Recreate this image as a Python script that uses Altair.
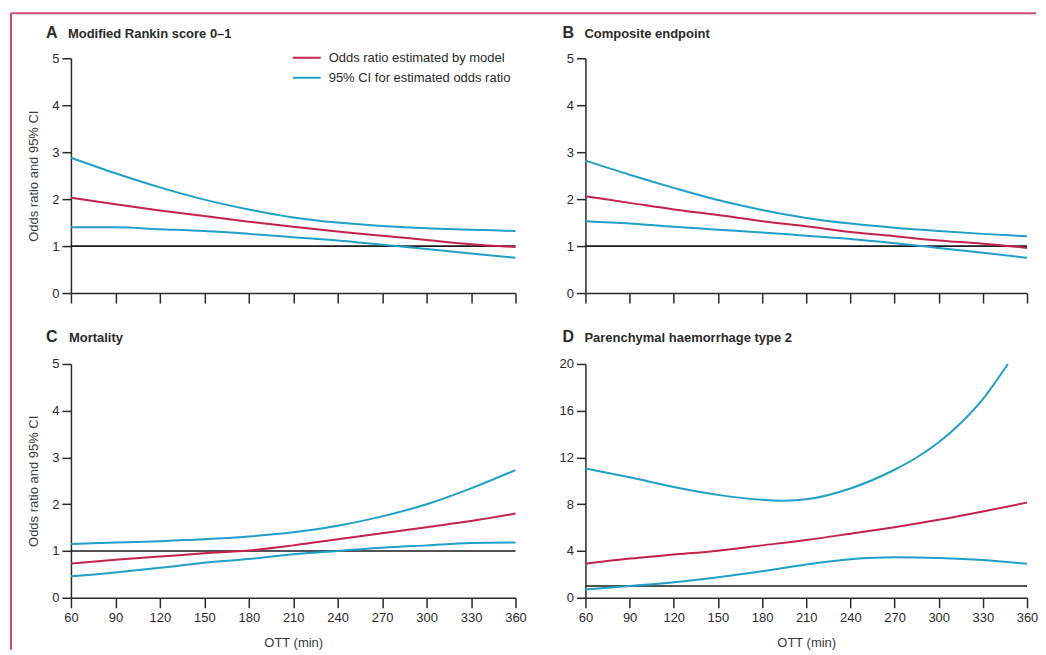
import altair as alt
import pandas as pd

# ---------------- data ----------------
OTT = [60, 90, 120, 150, 180, 210, 240, 270, 300, 330, 360]

A_OR = [2.03, 1.89, 1.76, 1.64, 1.52, 1.41, 1.31, 1.22, 1.13, 1.04, 0.98]
A_HI = [2.88, 2.55, 2.25, 1.99, 1.78, 1.61, 1.50, 1.43, 1.38, 1.35, 1.32]
A_LO = [1.40, 1.40, 1.36, 1.32, 1.26, 1.19, 1.12, 1.03, 0.94, 0.84, 0.75]

B_OR = [2.06, 1.92, 1.78, 1.66, 1.53, 1.42, 1.30, 1.21, 1.12, 1.05, 0.96]
B_HI = [2.82, 2.52, 2.24, 1.98, 1.77, 1.60, 1.48, 1.39, 1.32, 1.26, 1.21]
B_LO = [1.53, 1.48, 1.41, 1.35, 1.29, 1.22, 1.15, 1.06, 0.96, 0.86, 0.75]

C_OR = [0.73, 0.81, 0.88, 0.95, 1.01, 1.12, 1.25, 1.38, 1.51, 1.64, 1.80]
C_HI = [1.15, 1.18, 1.21, 1.25, 1.31, 1.40, 1.54, 1.74, 2.00, 2.34, 2.73]
C_LO = [0.46, 0.54, 0.64, 0.75, 0.83, 0.93, 1.00, 1.07, 1.12, 1.17, 1.18]

D_OR = [2.90, 3.35, 3.69, 4.03, 4.48, 4.94, 5.48, 6.04, 6.67, 7.38, 8.14]
D_LO = [0.70, 1.00, 1.33, 1.76, 2.27, 2.84, 3.29, 3.46, 3.40, 3.23, 2.90]
D_HI_OTT = [60, 90, 120, 150, 180, 195, 210, 240, 270, 285, 300, 315, 330, 347]
D_HI = [11.06, 10.30, 9.48, 8.80, 8.38, 8.30, 8.42, 9.35, 10.95, 12.00, 13.30,
        14.95, 17.00, 20.00]

SERIES = ["Odds ratio estimated by model", "95% CI for estimated odds ratio"]
LETTERS = ["A", "B", "C", "D"]
TITLES = ["Modified Rankin score 0\u20131", "Composite endpoint", "Mortality",
          "Parenchymal haemorrhage type 2"]
Y_TICKS = [[0, 1, 2, 3, 4, 5], [0, 1, 2, 3, 4, 5], [0, 1, 2, 3, 4, 5],
           [0, 4, 8, 12, 16, 20]]
X_TICKS = [60, 90, 120, 150, 180, 210, 240, 270, 300, 330, 360]
REF = 1
Y_TITLE = "Odds ratio and 95% CI"
X_TITLE = "OTT (min)"

# ---------------- style ----------------
FONT = "Liberation Sans, Arial, sans-serif"
RED = "#c5214d"
BLUE = "#1f9fc9"
BORDER = "#d04a70"
TXT = "#2b2b2b"


def panel(idx, or_y, lo_y, hi_x, hi_y, width, height, left, bottom, legend, border, tx):
    rows = []
    for x, v in zip(OTT, or_y):
        rows.append({"ott": x, "val": v, "curve": "or", "series": SERIES[0]})
    for x, v in zip(OTT, lo_y):
        rows.append({"ott": x, "val": v, "curve": "lo", "series": SERIES[1]})
    for x, v in zip(hi_x, hi_y):
        rows.append({"ott": x, "val": v, "curve": "hi", "series": SERIES[1]})
    df = pd.DataFrame(rows)

    ymax = Y_TICKS[idx][-1]
    xaxis = alt.Axis(values=X_TICKS, labels=bottom, title=X_TITLE if bottom else None)
    yaxis = alt.Axis(values=Y_TICKS[idx], title=Y_TITLE if left else None)
    xscale = alt.Scale(domain=[X_TICKS[0], X_TICKS[-1]], nice=False, zero=False)
    yscale = alt.Scale(domain=[0, ymax], nice=False, zero=False)

    if legend:
        leg = alt.Legend(orient="none", legendX=221, legendY=-7, title=None,
                         symbolType="stroke", symbolSize=784, symbolStrokeWidth=2,
                         labelFont=FONT, labelFontSize=13, labelColor=TXT,
                         labelLimit=400, clipHeight=13, rowPadding=6, labelOffset=7,
                         padding=0)
    else:
        leg = None

    one = pd.DataFrame({"k": [0]})
    ref = alt.Chart(one).mark_rule(color="#1a1a1a", strokeWidth=1.6).encode(
        x=alt.X(datum=X_TICKS[0], scale=xscale, axis=xaxis),
        x2=alt.datum(X_TICKS[-1]),
        y=alt.Y(datum=REF, scale=yscale, axis=yaxis))

    lines = alt.Chart(df).mark_line(strokeWidth=2, interpolate="monotone").encode(
        x=alt.X("ott:Q", scale=xscale, axis=xaxis),
        y=alt.Y("val:Q", scale=yscale, axis=yaxis),
        color=alt.Color("series:N", scale=alt.Scale(domain=SERIES, range=[RED, BLUE]),
                        legend=leg),
        detail="curve:N",
        order="ott:Q",
    )

    letter = alt.Chart(pd.DataFrame({"t": [LETTERS[idx]]})).mark_text(
        align="left", baseline="middle", font=FONT, fontSize=16, fontWeight="bold",
        color=TXT).encode(x=alt.value(tx[0]), y=alt.value(tx[2]), text="t:N")
    name = alt.Chart(pd.DataFrame({"t": [TITLES[idx]]})).mark_text(
        align="left", baseline="middle", font=FONT, fontSize=13, fontWeight="bold",
        color=TXT).encode(x=alt.value(tx[1]), y=alt.value(tx[2] + 1), text="t:N")

    layers = [ref, lines, letter, name]
    if border:
        vb = alt.Chart(one).mark_rule(color=BORDER, strokeWidth=2).encode(
            x=alt.value(-60), y=alt.value(-45), y2=alt.value(592))
        hb = alt.Chart(one).mark_rule(color=BORDER, strokeWidth=2).encode(
            x=alt.value(-60), x2=alt.value(966), y=alt.value(-45))
        layers += [vb, hb]
    return alt.layer(*layers).properties(width=width, height=height).resolve_scale(
        color="independent")


pA = panel(0, A_OR, A_LO, OTT, A_HI, 445, 235, True, False, True, True, (-25, -3, -25))
pB = panel(1, B_OR, B_LO, OTT, B_HI, 442, 235, False, False, False, False, (-23, -1, -25))
pC = panel(2, C_OR, C_LO, OTT, C_HI, 445, 234, True, True, False, False, (-25, -2, -27))
pD = panel(3, D_OR, D_LO, D_HI_OTT, D_HI, 442, 234, False, True, False, False, (-23, -1, -27))

chart = alt.concat(
    pA, pB, pC, pD, columns=2, spacing={"row": 71, "column": 70}, bounds="flush"
).resolve_scale(
    color="independent", x="independent", y="independent"
).properties(
    padding={"left": 2, "top": 4, "right": 0, "bottom": 0},
    background="white",
).configure_view(stroke=None).configure_axis(
    labelFont=FONT, labelFontSize=13, labelColor=TXT, labelFlush=False,
    domainColor="#2b2b2b", tickColor="#2b2b2b", domainWidth=1.5, tickWidth=1.5,
    grid=False, titleFont=FONT, titleFontSize=13, titleFontWeight="normal",
    titleColor="#3a3a3a",
).configure_axisX(tickSize=10, labelPadding=4, titlePadding=12).configure_axisY(
    tickSize=9, labelPadding=3, titlePadding=11)

chart.save("out.html", embed_options={"renderer": "svg", "actions": False})
